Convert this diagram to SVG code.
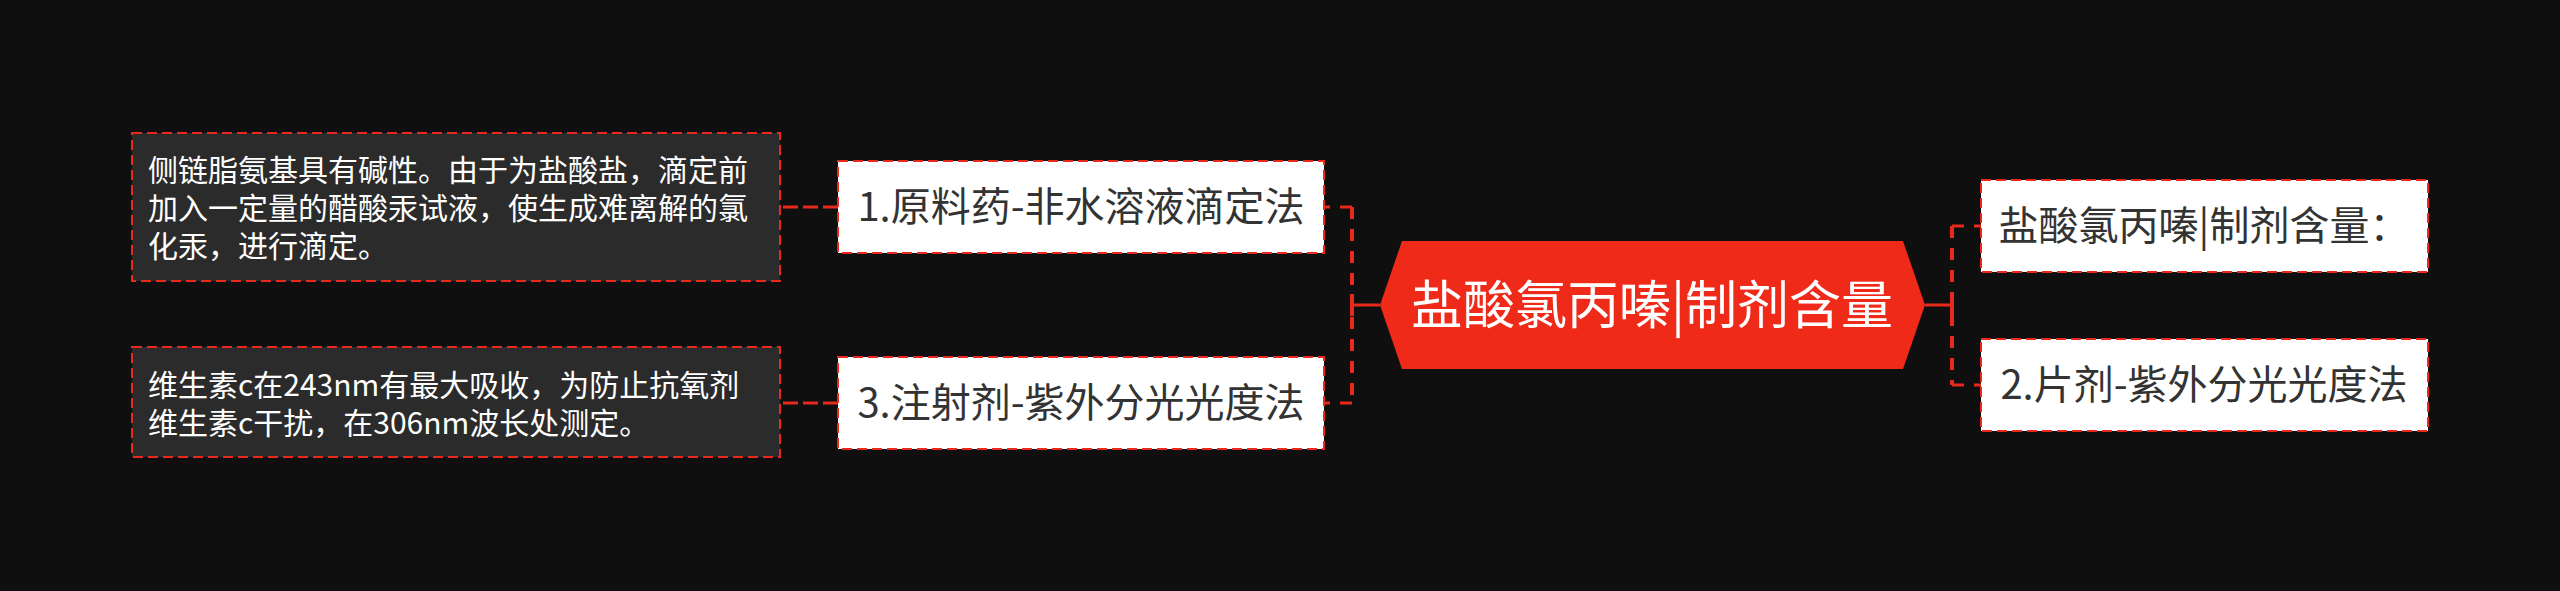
<svg xmlns="http://www.w3.org/2000/svg" width="2560" height="591" viewBox="0 0 2560 591">
<defs>
<style>
.bg{fill:#0f0f0f}
.note rect{fill:#2b2b2b;stroke:#e8291c;stroke-width:2;stroke-dasharray:10 5}
.note text{fill:#ffffff;font-family:"Noto Sans CJK SC","Noto Sans",sans-serif;font-size:30px}
.node rect{fill:#ffffff;stroke:#e8291c;stroke-width:2;stroke-dasharray:10 5}
.node text{fill:#333333;font-family:"Noto Sans CJK SC","Noto Sans",sans-serif;font-size:40px;text-anchor:middle}
.root polygon{fill:#f02a19}
.root text{fill:#ffffff;font-family:"Noto Sans CJK SC","Noto Sans",sans-serif;font-size:52px;text-anchor:middle}
.dash{fill:none;stroke:#e8291c;stroke-width:3;stroke-dasharray:12 10}
.vdash{fill:none;stroke:#e8291c;stroke-width:4;stroke-dasharray:12 10}
.ndash{fill:none;stroke:#e8291c;stroke-width:3;stroke-dasharray:15 5}
.solid{fill:none;stroke:#e8291c;stroke-width:3}
.tick{fill:none;stroke:#e8291c;stroke-width:4}
</style>
</defs>
<rect class="bg" x="0" y="0" width="2560" height="591"/>
<g id="connectors">
<line class="solid" x1="1380" y1="305" x2="1352" y2="305"/>
<line class="tick" x1="1352" y1="294" x2="1352" y2="316"/>
<line class="vdash" x1="1352" y1="207" x2="1352" y2="403"/>
<line class="dash" x1="1352" y1="207" x2="1324" y2="207"/>
<line class="dash" x1="1352" y1="403" x2="1324" y2="403"/>
<line class="solid" x1="1925" y1="305" x2="1952" y2="305"/>
<line class="tick" x1="1952" y1="294" x2="1952" y2="316"/>
<line class="vdash" x1="1952" y1="226" x2="1952" y2="385"/>
<line class="dash" x1="1952" y1="226" x2="1981" y2="226"/>
<line class="dash" x1="1952" y1="385" x2="1981" y2="385"/>
<line class="ndash" x1="838" y1="207" x2="780" y2="207"/>
<line class="ndash" x1="838" y1="403" x2="780" y2="403"/>
</g>
<g id="root" class="root">
<polygon points="1380,305 1402,241 1903,241 1925,305 1903,369 1402,369"/>
<text x="1652" y="324">盐酸氯丙嗪|制剂含量</text>
</g>
<g id="node1" class="node">
<rect x="838" y="161" width="486" height="92"/>
<text x="1081" y="221">1.原料药-非水溶液滴定法</text>
</g>
<g id="node3" class="node">
<rect x="838" y="357" width="486" height="92"/>
<text x="1081" y="417">3.注射剂-紫外分光光度法</text>
</g>
<g id="nodeR1" class="node">
<rect x="1981" y="180" width="447" height="92"/>
<text x="2204" y="240">盐酸氯丙嗪|制剂含量：</text>
</g>
<g id="nodeR2" class="node">
<rect x="1981" y="339" width="447" height="92"/>
<text x="2204" y="399">2.片剂-紫外分光光度法</text>
</g>
<g id="noteA" class="note">
<rect x="132" y="133" width="648" height="148"/>
<text x="148" y="181">侧链脂氨基具有碱性。由于为盐酸盐，滴定前</text>
<text x="148" y="219">加入一定量的醋酸汞试液，使生成难离解的氯</text>
<text x="148" y="257">化汞，进行滴定。</text>
</g>
<g id="noteB" class="note">
<rect x="132" y="347" width="648" height="110"/>
<text x="148" y="396">维生素c在243nm有最大吸收，为防止抗氧剂</text>
<text x="148" y="434">维生素c干扰，在306nm波长处测定。</text>
</g>
</svg>
